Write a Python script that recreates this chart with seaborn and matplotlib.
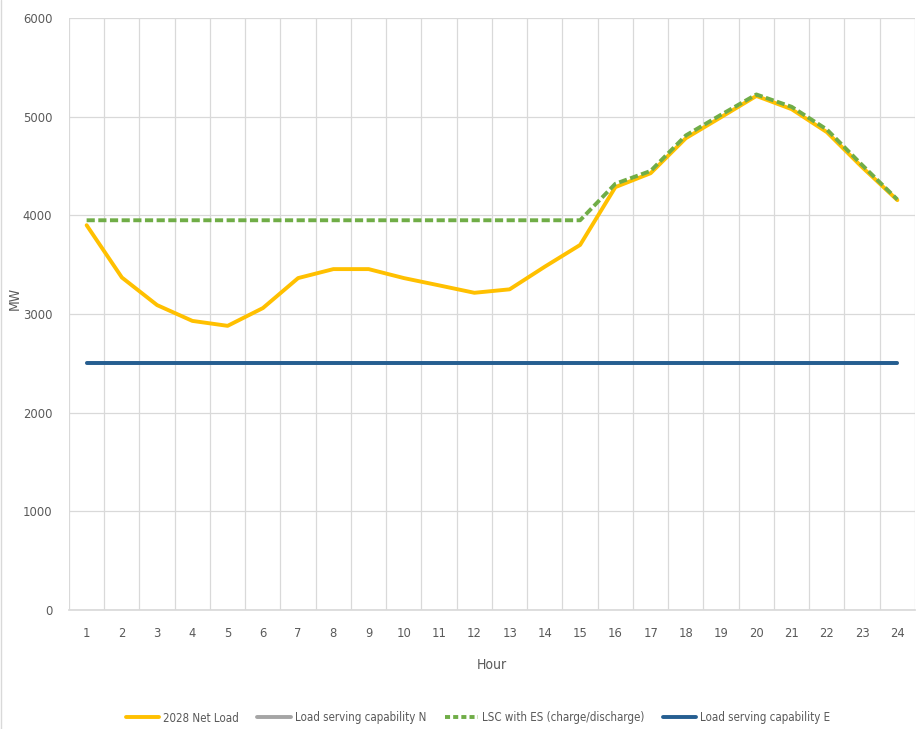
import matplotlib
matplotlib.use("Agg")
import matplotlib.pyplot as plt
import seaborn as sns
import pandas as pd
from matplotlib.lines import Line2D
from matplotlib import font_manager as fm

hours = list(range(1, 25))
net_load = [3900, 3370, 3090, 2930, 2880, 3060, 3364, 3455, 3455, 3364, 3290, 3215,
            3250, 3480, 3700, 4286, 4427, 4782, 4995, 5210, 5076, 4843, 4488, 4154]
lsc_n = [2500] * 24
lsc_es = [3950] * 15 + [4320, 4450, 4810, 5020, 5225, 5100, 4870, 4510, 4160]
lsc_e = [2500] * 24
series_names = ["2028 Net Load", "Load serving capability N",
                "LSC with ES (charge/discharge)", "Load serving capability E"]
y_ticks = [0, 1000, 2000, 3000, 4000, 5000, 6000]

sns.set_theme(style="white")

names = {f.name for f in fm.fontManager.ttflist}
cond_dejavu = any((f.name == "DejaVu Sans" and "Condensed" in f.fname)
                  for f in fm.fontManager.ttflist)
if "Liberation Sans Narrow" in names:
    plt.rcParams['font.family'] = ['Liberation Sans Narrow', 'DejaVu Sans']
    fs_tick, fs_leg, fs_lab = 10, 10, 11
elif cond_dejavu:
    plt.rcParams['font.family'] = ['DejaVu Sans']
    plt.rcParams['font.stretch'] = 'condensed'
    fs_tick, fs_leg, fs_lab = 9.3, 8.3, 10
else:
    plt.rcParams['font.family'] = ['Liberation Sans', 'DejaVu Sans']
    fs_tick, fs_leg, fs_lab = 8.5, 7.6, 10

fig = plt.figure(figsize=(9.2, 7.29), dpi=100)
ax = fig.add_axes([69 / 920, 1 - 610 / 729, (915 - 69) / 920, (610 - 18) / 729])

df = pd.DataFrame({"Hour": hours, "net": net_load, "n": lsc_n, "es": lsc_es, "e": lsc_e})

lw = 2.8
sns.lineplot(data=df, x="Hour", y="n", ax=ax, color="#A5A5A5", linewidth=lw, zorder=2)
sns.lineplot(data=df, x="Hour", y="e", ax=ax, color="#255E91", linewidth=lw, zorder=3)
sns.lineplot(data=df, x="Hour", y="net", ax=ax, color="#FFC000", linewidth=lw, zorder=4)
sns.lineplot(data=df, x="Hour", y="es", ax=ax, color="#70AD47", linewidth=lw, zorder=5,
             linestyle=(0, (2.1, 0.9)))

ax.set_xlim(0.5, 24.5)
ax.set_ylim(0, 6000)
ax.set_yticks(y_ticks)
ax.set_yticklabels([str(v) for v in y_ticks], fontsize=fs_tick, color="#595959")
ax.set_xticks(hours)
ax.set_xticklabels([str(h) for h in hours], fontsize=fs_tick, color="#595959")
ax.set_xticks([h + 0.5 for h in range(0, 25)], minor=True)
ax.grid(False)
ax.yaxis.grid(True, which="major", color="#D9D9D9", linewidth=0.9)
ax.xaxis.grid(True, which="minor", color="#D9D9D9", linewidth=0.9)
ax.tick_params(axis="both", which="both", length=0)
ax.tick_params(axis="x", pad=12)
ax.tick_params(axis="y", pad=12)
for s in ["top", "right", "left"]:
    ax.spines[s].set_visible(False)
ax.spines["bottom"].set_color("#D9D9D9")
ax.set_axisbelow(True)

ax.set_xlabel("Hour", fontsize=fs_lab, color="#595959", labelpad=13)
ax.set_ylabel("MW", fontsize=fs_lab, color="#595959")
ax.yaxis.set_label_coords((22 - 69) / 846, (610 - 298) / 592)

handles = [
    Line2D([], [], color="#FFC000", linewidth=lw),
    Line2D([], [], color="#A5A5A5", linewidth=lw),
    Line2D([], [], color="#70AD47", linewidth=lw, linestyle=(0, (1.3, 0.8))),
    Line2D([], [], color="#255E91", linewidth=lw),
]
fig.legend(handles, series_names, loc="center", bbox_to_anchor=(478 / 920, 1 - 718 / 729),
           ncol=4, frameon=False, fontsize=fs_leg, handlelength=2.9, columnspacing=1.6,
           handletextpad=0.35, labelcolor="#595959")

fig.add_artist(Line2D([1.5 / 920, 1.5 / 920], [0, 1], color="#D9D9D9", linewidth=1,
                      transform=fig.transFigure))

fig.savefig("out.png", dpi=100)
